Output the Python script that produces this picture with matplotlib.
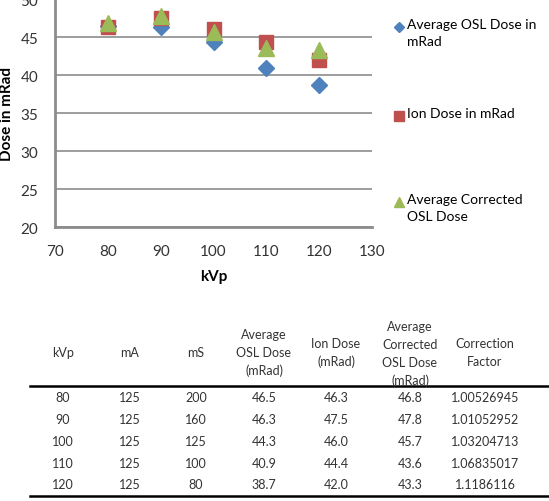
import matplotlib.pyplot as plt
from matplotlib.lines import Line2D

plt.rcParams['font.family'] = ['Lato', 'DejaVu Sans']

kvp = [80, 90, 100, 110, 120]
ma = [125, 125, 125, 125, 125]
ms = [200, 160, 125, 100, 80]
osl_dose = [46.5, 46.3, 44.3, 40.9, 38.7]
ion_dose = [46.3, 47.5, 46.0, 44.4, 42.0]
corrected_dose = [46.8, 47.8, 45.7, 43.6, 43.3]
correction_factor = ['1.00526945', '1.01052952', '1.03204713', '1.06835017', '1.1186116']

series_labels = ['Average OSL Dose in\nmRad', 'Ion Dose in mRad', 'Average Corrected\nOSL Dose']
header = ['kVp', 'mA', 'mS', 'Average\nOSL Dose\n(mRad)', 'Ion Dose\n(mRad)',
          'Average\nCorrected\nOSL Dose\n(mRad)', 'Correction\nFactor']

blue, red, green = '#4F81BD', '#C0504D', '#9BBB59'
W, H = 549, 502
fig = plt.figure(figsize=(W / 100, H / 100), dpi=100)

def fx(px):
    return px / W

def fy(py):
    return 1 - py / H

# chart
ax = fig.add_axes([fx(55), fy(228), fx(372) - fx(55), fy(0) - fy(228)])
ax.plot(kvp, osl_dose, 'D', color=blue, ms=8, clip_on=False, zorder=3)
ax.plot(kvp, ion_dose, 's', color=red, ms=10, clip_on=False, zorder=4)
ax.plot(kvp, corrected_dose, '^', color=green, ms=11, clip_on=False, zorder=5)
ax.set_xlim(70, 130)
ax.set_ylim(20, 50)
ax.set_xticks(range(70, 131, 10))
ax.set_yticks(range(20, 51, 5))
ax.grid(axis='y', color='#8c8c8c', lw=1.2)
ax.set_axisbelow(True)
for s in ['top', 'right']:
    ax.spines[s].set_visible(False)
for s in ['left', 'bottom']:
    ax.spines[s].set_color('#8c8c8c')
    ax.spines[s].set_linewidth(2)
ax.tick_params(length=0, labelsize=11, colors='#333333')
ax.tick_params(axis='x', pad=12)
ax.tick_params(axis='y', pad=12)
ax.set_xlabel('kVp', fontsize=11, fontweight='bold', labelpad=8)
ax.set_ylabel('Dose in mRad', fontsize=11, fontweight='bold', labelpad=5)

# legend
leg = [('D', blue, 5.5, 28), ('s', red, 6.5, 117), ('^', green, 7, 203)]
for (m, c, sz, y), lab in zip(leg, series_labels):
    fig.add_artist(Line2D([fx(399)], [fy(y)], marker=m, color=c, ms=sz, ls='none'))
    fig.text(fx(407), fy(y - 9), lab, fontsize=10, va='top', ha='left', linespacing=1.5)

# table
col_x = [63, 130, 196, 264, 336, 410, 485]
header_y = [353, 353, 353, 353, 353, 354, 353]
for x, y, h in zip(col_x, header_y, header):
    fig.text(fx(x), fy(y), h, fontsize=9, ha='center', va='center', linespacing=1.6,
             color='#333333')
rows = list(zip(kvp, ma, ms, osl_dose, ion_dose, corrected_dose, correction_factor))
row_y = [398, 420, 442, 464, 485]
for y, r in zip(row_y, rows):
    vals = [str(r[0]), str(r[1]), str(r[2]), f'{r[3]:.1f}', f'{r[4]:.1f}', f'{r[5]:.1f}', r[6]]
    for x, v in zip(col_x, vals):
        fig.text(fx(x), fy(y), v, fontsize=9, ha='center', va='center', color='#333333')
for y in [387, 497]:
    fig.add_artist(Line2D([fx(30), fx(549)], [fy(y), fy(y)], color='black', lw=1.8))

fig.savefig('out.png', dpi=100)
